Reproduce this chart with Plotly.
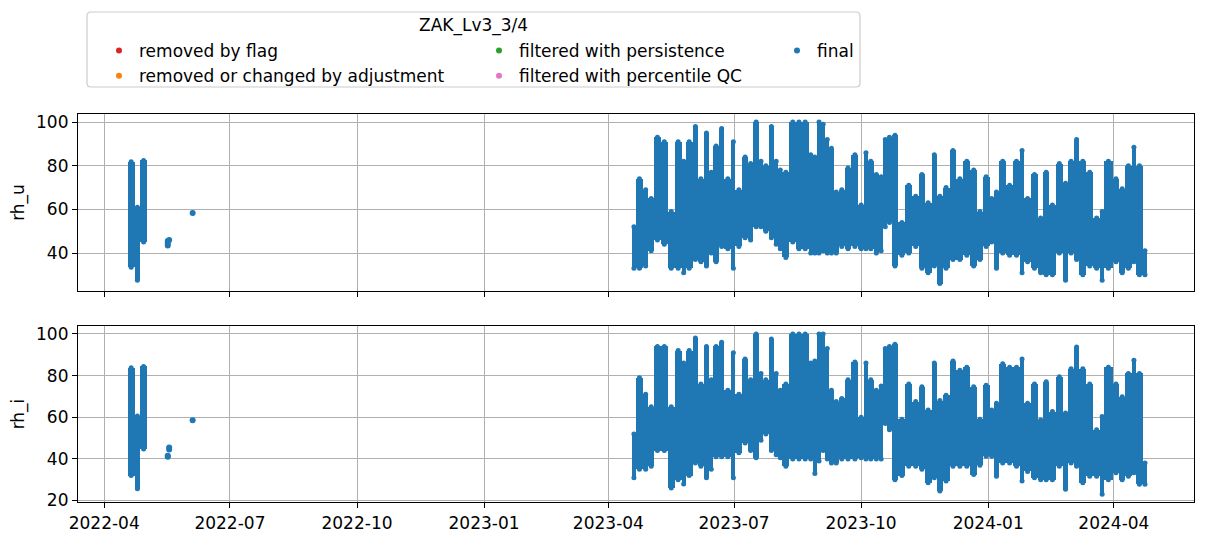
import pandas as pd
import plotly.graph_objects as go
from plotly.subplots import make_subplots

# ZAK_Lv3_3/4 relative humidity, hourly points shown as min/max blocks
# (edges are the block boundaries, hi/lo)

# short spring 2022 record
edges_2022 = ["2022-04-18", "2022-04-23", "2022-04-27", "2022-05-02"]
u_hi_2022 = [81.8, 61.0, 82.4]
u_lo_2022 = [33.5, 27.5, 45.0]
i_hi_2022 = [83.7, 60.6, 84.4]
i_lo_2022 = [32.0, 25.7, 44.8]

# isolated points after the 2022 block
pts_dates_u = ["2022-05-17", "2022-05-17", "2022-05-17", "2022-05-18", "2022-06-04"]
pts_u = [43.5, 44.5, 45.5, 46.0, 58.3]
pts_dates_i = ["2022-05-17", "2022-05-17", "2022-05-18", "2022-05-18", "2022-06-04"]
pts_i = [41.0, 41.5, 44.5, 45.5, 58.6]

# main record 2023-04 .. 2024-04
edges = [
    "2023-04-18", "2023-04-21", "2023-04-26", "2023-04-30", "2023-05-04", "2023-05-09", "2023-05-14", "2023-05-19", "2023-05-24", "2023-05-27",
    "2023-06-01", "2023-06-05", "2023-06-09", "2023-06-13", "2023-06-16", "2023-06-20", "2023-06-24", "2023-06-29", "2023-07-02", "2023-07-07",
    "2023-07-11", "2023-07-15", "2023-07-19", "2023-07-22", "2023-07-26", "2023-07-30", "2023-08-02", "2023-08-05", "2023-08-10", "2023-08-15",
    "2023-08-19", "2023-08-24", "2023-08-27", "2023-08-30", "2023-09-02", "2023-09-05", "2023-09-08", "2023-09-11", "2023-09-15", "2023-09-19",
    "2023-09-24", "2023-09-29", "2023-10-03", "2023-10-06", "2023-10-10", "2023-10-14", "2023-10-17", "2023-10-20", "2023-10-23", "2023-10-28",
    "2023-11-02", "2023-11-07", "2023-11-12", "2023-11-16", "2023-11-21", "2023-11-25", "2023-11-29", "2023-12-04", "2023-12-09", "2023-12-14",
    "2023-12-19", "2023-12-24", "2023-12-28", "2024-01-02", "2024-01-05", "2024-01-09", "2024-01-14", "2024-01-19", "2024-01-24", "2024-01-27",
    "2024-02-01", "2024-02-06", "2024-02-10", "2024-02-14", "2024-02-19", "2024-02-24", "2024-02-28", "2024-03-03", "2024-03-07", "2024-03-12",
    "2024-03-17", "2024-03-22", "2024-03-25", "2024-03-31", "2024-04-05", "2024-04-09", "2024-04-14", "2024-04-17", "2024-04-22", "2024-04-25",
]
u_hi = [52, 74, 69, 65, 93, 91, 59, 91, 82, 91,
        98, 74, 95, 77, 89, 97, 74, 91, 69, 84,
        81, 100, 82, 80, 98, 82, 78, 77, 100, 100,
        100, 85, 84, 100, 99, 92, 88, 68, 69, 79,
        85, 62, 86, 82, 76, 75, 92, 93, 94, 54,
        71, 66, 76, 63, 85, 66, 70, 87, 74, 82,
        78, 59, 75, 65, 68, 82, 71, 82, 87, 65,
        76, 56, 77, 62, 81, 72, 82, 92, 82, 77,
        56, 59, 82, 74, 69.5, 80, 88.5, 80, 41]
u_lo = [33, 33, 34, 41, 46, 44, 33, 33, 31, 33,
        37, 36, 34, 40, 36, 43, 42, 33, 43, 47,
        46, 52, 52, 50, 47, 44, 42, 38, 45, 42,
        42, 40, 40, 40, 41, 40, 40, 40, 43, 42,
        43, 42, 42, 42, 40, 41, 52, 54, 34, 39,
        40, 43, 33, 31, 34, 26, 33, 37, 37, 39,
        34, 37, 43, 45, 33, 40, 39, 39, 31, 36,
        33, 31, 30, 30, 40, 27.5, 40, 37, 30, 34,
        33, 27.5, 33, 36, 31, 33, 36, 30, 30]
i_hi = [52, 79, 71, 65, 94, 94, 65, 92, 86, 92,
        98, 76, 94, 78, 94, 96, 73, 91, 71, 88,
        78, 100, 81, 78, 97.6, 81, 73, 76, 100, 100,
        100, 86, 87, 100, 100, 93, 73, 67.5, 69, 78,
        86.5, 60, 86, 78, 73, 75, 93, 94, 95, 59,
        76, 67.5, 74.6, 63.5, 86, 68, 70.6, 87, 82.5, 84,
        74.6, 59, 75.4, 63.5, 66.7, 85.7, 84, 84, 88, 66.7,
        76, 58.7, 77, 62.7, 79.4, 62, 83.3, 93.7, 83.3, 76,
        54, 60.3, 84, 76, 69.8, 81, 87.3, 81, 38]
i_lo = [31, 35, 35, 36.5, 44, 44, 26, 30, 28, 32,
        38, 36.5, 31, 35, 41, 41, 41, 31, 43, 47.6,
        44, 40.5, 49, 52, 44, 42, 40.5, 36.5, 40, 40,
        40, 40, 33, 39, 44, 40, 38, 38, 40, 40,
        40, 40.5, 40, 40, 40, 40, 57, 54, 30, 32,
        36.5, 36.5, 35, 28.6, 31, 24.6, 29.4, 36.5, 36.5, 36.5,
        32.5, 37, 41.3, 41.3, 31.7, 38, 38, 36.5, 29.4, 34,
        31, 30, 30, 30, 36.5, 25.4, 38, 36.5, 28.6, 31.7,
        31.7, 23, 30, 33.3, 30, 31.7, 33.3, 27.8, 27.8]

tick_dates = ["2022-04-01", "2022-07-01", "2022-10-01", "2023-01-01", "2023-04-01",
              "2023-07-01", "2023-10-01", "2024-01-01", "2024-04-01"]

BLUE = "#1f77b4"
FONT = "DejaVu Sans"
FS = 17
W, H = 1206, 542
OFF = 8  # page body margin, positions below are page pixels


def fx(p):
    return (p - OFF) / W


def fy(p):
    return 1 - (p - OFF) / H


def blocks(edge_list, hi, lo):
    e = pd.to_datetime(edge_list)
    x = [d.strftime("%Y-%m-%d") for d in e[:-1]]
    w = [(b - a).total_seconds() * 1000 for a, b in zip(e[:-1], e[1:])]
    mid = [(a + (b - a) / 2).strftime("%Y-%m-%d %H:%M") for a, b in zip(e[:-1], e[1:])]
    h = [a - b for a, b in zip(hi, lo)]
    return x, w, list(lo), h, mid


fig = make_subplots(rows=2, cols=1, shared_xaxes=True)

for row, parts in [(1, [(edges_2022, u_hi_2022, u_lo_2022), (edges, u_hi, u_lo)]),
                   (2, [(edges_2022, i_hi_2022, i_lo_2022), (edges, i_hi, i_lo)])]:
    xs, ws, bs, hs, ms, caps = [], [], [], [], [], []
    for e, hi, lo in parts:
        x, w, b, h, m = blocks(e, hi, lo)
        xs += x; ws += w; bs += b; hs += h
        ms += m + m
        caps += list(hi) + list(lo)
    fig.add_trace(go.Bar(x=xs, y=hs, base=bs, width=ws, offset=0,
                         marker=dict(color=BLUE, line=dict(width=0)),
                         showlegend=False, hoverinfo="skip"), row=row, col=1)
    # round ends of each block like the dot edges
    fig.add_trace(go.Scatter(x=ms, y=caps, mode="markers", showlegend=False,
                             marker=dict(color=BLUE, size=5), hoverinfo="skip"), row=row, col=1)

fig.add_trace(go.Scatter(x=pts_dates_u, y=pts_u, mode="markers", name="final",
                         marker=dict(color=BLUE, size=6), legend="legend3"), row=1, col=1)
fig.add_trace(go.Scatter(x=pts_dates_i, y=pts_i, mode="markers", showlegend=False,
                         marker=dict(color=BLUE, size=6)), row=2, col=1)

# legend-only categories (nothing of these in the plot)
legend_items = [("removed by flag", "#d62728", "legend"),
                ("removed or changed by adjustment", "#ff7f0e", "legend"),
                ("filtered with persistence", "#2ca02c", "legend2"),
                ("filtered with percentile QC", "#e377c2", "legend2")]
for name, col, lg in legend_items:
    fig.add_trace(go.Scatter(x=[None], y=[None], mode="markers", name=name,
                             marker=dict(color=col, size=6), legend=lg), row=1, col=1)

axis_style = dict(showline=True, mirror=True, linecolor="black", linewidth=1.2,
                  ticks="outside", ticklen=5, tickwidth=1.2, tickcolor="black",
                  showgrid=True, gridcolor="#b0b0b0", gridwidth=1, zeroline=False,
                  automargin=False, tickfont=dict(size=FS, color="black"))

xdom = [fx(78), fx(1194)]
for ax in ["xaxis", "xaxis2"]:
    fig.layout[ax].update(type="date", range=["2022-03-13", "2024-05-29"],
                          tickvals=tick_dates, tickformat="%Y-%m", domain=xdom, **axis_style)
fig.layout.xaxis.update(showticklabels=False)

fig.update_yaxes(row=1, col=1, range=[22.6, 103.7], tickvals=[40, 60, 80, 100],
                 domain=[fy(291), fy(114)], **axis_style)
fig.update_yaxes(row=2, col=1, range=[19.3, 103.8], tickvals=[20, 40, 60, 80, 100],
                 domain=[fy(502), fy(326)], **axis_style)
fig.update_yaxes(row=1, col=1, title=dict(text="rh_u", standoff=10, font=dict(size=FS)))
fig.update_yaxes(row=2, col=1, title=dict(text="rh_i", standoff=10, font=dict(size=FS)))

leg = dict(orientation="v", yanchor="top", y=fy(33), xanchor="left",
           bgcolor="rgba(0,0,0,0)", font=dict(size=FS, color="black"),
           tracegroupgap=0)

# legend frame with small rounded corners
x0, x1, y0, y1 = fx(87), fx(860), fy(87), fy(12)
rx, ry = 4 / W, 4 / H
frame = (f"M {x0 + rx} {y1} L {x1 - rx} {y1} Q {x1} {y1} {x1} {y1 - ry} "
         f"L {x1} {y0 + ry} Q {x1} {y0} {x1 - rx} {y0} L {x0 + rx} {y0} "
         f"Q {x0} {y0} {x0} {y0 + ry} L {x0} {y1 - ry} Q {x0} {y1} {x0 + rx} {y1} Z")

fig.update_layout(
    width=W, height=H,
    margin=dict(l=0, r=0, t=0, b=0, autoexpand=False),
    paper_bgcolor="white", plot_bgcolor="white",
    font=dict(family=FONT, size=FS, color="black"),
    bargap=0,
    showlegend=True,
    legend=dict(leg, x=fx(99)),
    legend2=dict(leg, x=fx(479)),
    legend3=dict(leg, x=fx(777)),
    shapes=[dict(type="path", path=frame, xref="paper", yref="paper",
                 line=dict(color="#cccccc", width=1.2), fillcolor="rgba(255,255,255,0.8)",
                 layer="below")],
    annotations=[dict(text="ZAK_Lv3_3/4", x=fx(473), y=fy(26), xref="paper", yref="paper",
                      showarrow=False, font=dict(size=FS, color="black"), yanchor="middle")],
)

fig.write_html("out.html")
